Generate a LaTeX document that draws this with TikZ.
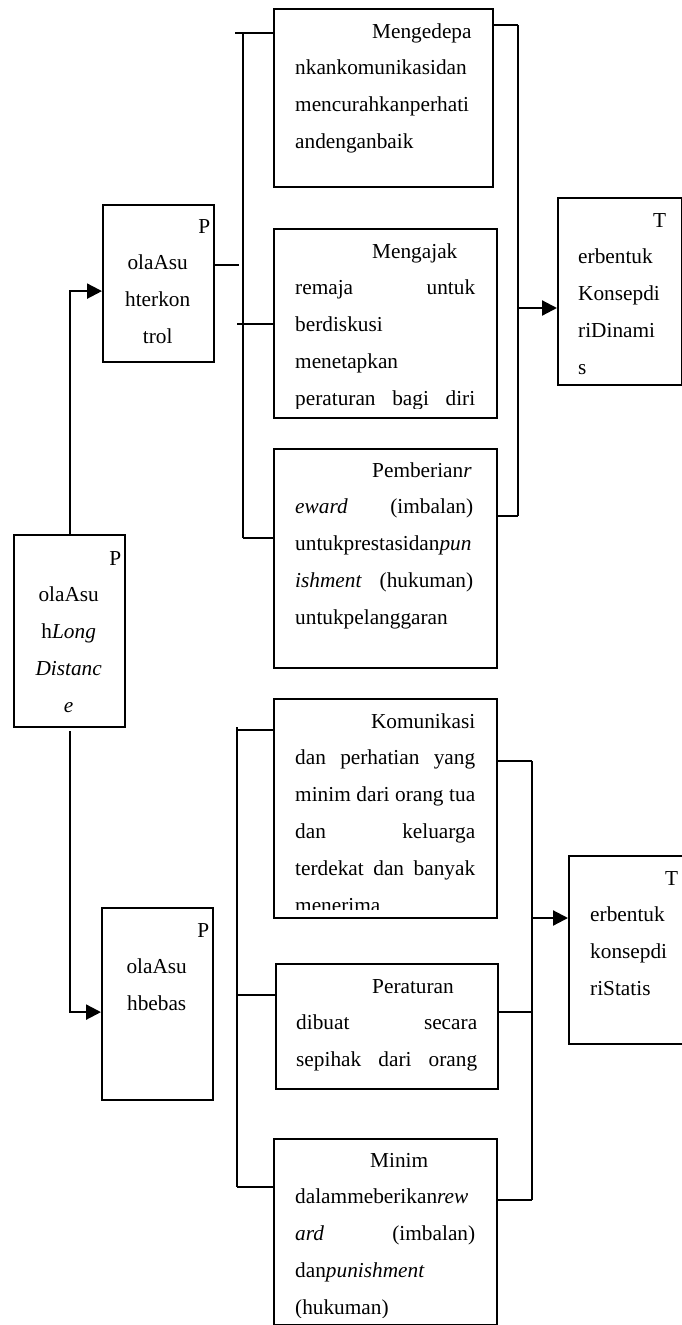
\documentclass[tikz,border=0pt]{standalone}
\usepackage{fontspec}
\setmainfont{Liberation Serif}
\usetikzlibrary{arrows.meta}
\newcommand{\fullline}[1]{\makebox[\linewidth][s]{#1}}

\begin{document}
\begin{tikzpicture}[
    x=1pt, y=-1pt,
    font=\fontsize{21.3}{36.8}\selectfont,
    box/.style={
        draw,
        line width=2.2pt,
        anchor=north west,
        inner sep=0pt
    },
    wide/.style={box, minimum width=223pt},
    narrow/.style={box, minimum width=111pt},
    txt/.style={anchor=base west, inner sep=0pt},
    line/.style={line width=2.2pt},
    arrow/.style={-{Triangle[length=15pt,width=15pt]}, line width=2.2pt}
]
\useasboundingbox (0,0) rectangle (682,1325);

% ============================================================
% POLA ASUH (kiri)
% ============================================================
\node[narrow, minimum height=192pt] (ld) at (13,534) {};
\node[narrow, minimum height=157pt] (kontrol) at (102,204) {};
\node[narrow, minimum height=192pt] (bebas) at (101,907) {};

\node[txt] (ldt) at ([xshift=3pt,yshift=-31pt]ld.north west)
    {\parbox[t]{105pt}{\centering\makebox[\linewidth][r]{P}\\ olaAsu\\ h\textit{Long}\\ \textit{Distanc}\\ \textit{e}}};
\node[txt] (kontrolt) at ([xshift=3pt,yshift=-29pt]kontrol.north west)
    {\parbox[t]{105pt}{\centering\makebox[\linewidth][r]{P}\\ olaAsu\\ hterkon\\ trol}};
\node[txt] (bebast) at ([xshift=3pt,yshift=-30pt]bebas.north west)
    {\parbox[t]{105pt}{\centering\makebox[\linewidth][r]{P}\\ olaAsu\\ hbebas}};

\draw[arrow] (ld.north) |- ([yshift=-7.5pt]kontrol.west);
\draw[arrow] ([yshift=-3pt]ld.south) |- ([yshift=-8pt]bebas.west);

% ============================================================
% POLA ASUH TERKONTROL
% ============================================================
\node[box, minimum width=219pt, minimum height=178pt] (a1) at (273,8) {};
\node[wide, minimum height=189pt] (a2) at (273,228) {};
\node[wide, minimum height=219pt] (a3) at (273,448) {};
\node[box, minimum width=124pt, minimum height=187pt] (t1) at (557,197) {};

\node[txt] (a1t) at ([xshift=22pt,yshift=-30pt]a1.north west)
    {\parbox[t]{175pt}{\hspace*{77pt}Mengedepa\\ nkankomunikasidan\\ mencurahkanperhati\\ andenganbaik}};
\begin{scope}
    \clip (a2.north west) rectangle ([yshift=11pt]a2.south east);
    \node[txt] (a2t) at ([xshift=22pt,yshift=-30pt]a2.north west)
        {\parbox[t]{180pt}{\hspace*{77pt}Mengajak\\ \fullline{remaja untuk}\\ berdiskusi\\ menetapkan\\ \fullline{peraturan bagi diri}}};
\end{scope}
\node[txt] (a3t) at ([xshift=22pt,yshift=-29pt]a3.north west)
    {\parbox[t]{178pt}{\hspace*{77pt}Pemberian\textit{r}\\ \fullline{\textit{eward} (imbalan)}\\ untukprestasidan\textit{pun}\\ \fullline{\textit{ishment} (hukuman)}\\ untukpelanggaran}};
\node[txt] (t1t) at ([xshift=21pt,yshift=-30pt]t1.north west)
    {\parbox[t]{87pt}{\hspace*{75pt}T\\ erbentuk\\ Konsepdi\\ riDinami\\ s}};

\coordinate (ktop) at (243,33);
\coordinate (kbot) at (243,538);
\coordinate (rtop) at (518,25);
\coordinate (rbot) at (518,516);
\coordinate (rmid) at (518,308);

\draw[line] (ktop) -- (kbot);
\draw[line] ([xshift=-8pt]ktop) -- (ktop -| a1.west);
\draw[line] ([yshift=18.5pt]kontrol.east) -- ++(24,0);
\draw[line] ([xshift=-6pt]ktop |- a2.west) -- (a2.west);
\draw[line] (kbot) -- (kbot -| a3.west);

\draw[line] (rtop) -- (rbot);
\draw[line] (rtop -| a1.east) -- (rtop);
\draw[line] (rbot -| a3.east) -- (rbot);
\draw[arrow] (rmid) -- (rmid -| t1.west);

% ============================================================
% POLA ASUH BEBAS
% ============================================================
\node[wide, minimum height=219pt] (b1) at (273,698) {};
\node[box, minimum width=222pt, minimum height=125pt] (b2) at (275,963) {};
\node[wide, minimum height=186pt] (b3) at (273,1138) {};
\node[box, minimum width=124pt, minimum height=188pt] (t2) at (568,855) {};

\begin{scope}
    \clip (b1.north west) rectangle ([yshift=10pt]b1.south east);
    \node[txt] (b1t) at ([xshift=22pt,yshift=-30pt]b1.north west)
        {\parbox[t]{180pt}{\makebox[\linewidth][r]{Komunikasi}\\ \fullline{dan perhatian yang}\\ \fullline{minim dari orang tua}\\ \fullline{dan keluarga}\\ \fullline{terdekat dan banyak}\\ menerima}};
\end{scope}
\node[txt] (b2t) at ([xshift=21pt,yshift=-30pt]b2.north west)
    {\parbox[t]{181pt}{\hspace*{76pt}Peraturan\\ \fullline{dibuat secara}\\ \fullline{sepihak dari orang}}};
\begin{scope}
    \clip (b3.north west) rectangle ([yshift=9pt]b3.south east);
    \node[txt] (b3t) at ([xshift=22pt,yshift=-29pt]b3.north west)
        {\parbox[t]{180pt}{\hspace*{75pt}Minim\\ dalammeberikan\textit{rew}\\ \fullline{\textit{ard} (imbalan)}\\ dan\textit{punishment}\\ (hukuman)}};
\end{scope}
\node[txt] (t2t) at ([xshift=22pt,yshift=-30pt]t2.north west)
    {\parbox[t]{87pt}{\hspace*{75pt}T\\ erbentuk\\ konsepdi\\ riStatis}};

\coordinate (stop) at (237,727);
\coordinate (sbot) at (237,1187);
\coordinate (qtop) at (532,761);
\coordinate (qbot) at (532,1200);
\coordinate (qmid) at (532,918);

\draw[line] (stop) -- (sbot);
\draw[line] ([yshift=-32pt]b1.north west -| stop) -- ([yshift=-32pt]b1.north west);
\draw[line] ([yshift=31.5pt]b2.west -| stop) -- ([yshift=31.5pt]b2.west);
\draw[line] (sbot) -- (sbot -| b3.west);

\draw[line] (qtop) -- (qbot);
\draw[line] (qtop -| b1.east) -- (qtop);
\draw[line] ([yshift=14.5pt]b2.east) -- ([yshift=14.5pt]b2.east -| qtop);
\draw[line] (qbot -| b3.east) -- (qbot);
\draw[arrow] (qmid) -- (qmid -| t2.west);

\end{tikzpicture}
\end{document}
